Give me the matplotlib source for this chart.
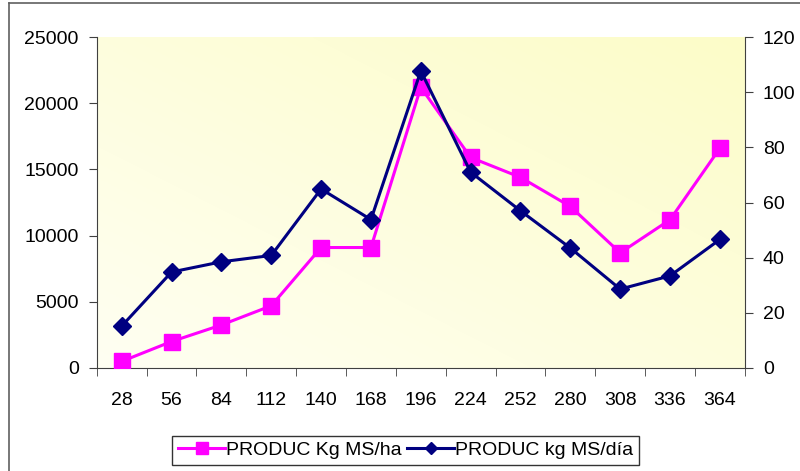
import numpy as np
import matplotlib
matplotlib.use("Agg")
import matplotlib.pyplot as plt
from matplotlib.colors import LinearSegmentedColormap
from matplotlib.lines import Line2D

plt.rcParams['font.family'] = ['Liberation Sans', 'DejaVu Sans']

dias = ["28", "56", "84", "112", "140", "168", "196", "224", "252", "280", "308", "336", "364"]
prod_ha = [500, 2000, 3250, 4700, 9100, 9100, 21200, 15900, 14400, 12200, 8700, 11200, 16600]
prod_dia = [15.2, 34.8, 38.5, 40.8, 64.9, 53.8, 107.7, 71.0, 57.0, 43.5, 28.6, 33.4, 46.6]

magenta = "#FF00FF"
navy = "#000080"

fig = plt.figure(figsize=(8, 4.71), dpi=100)
ax = fig.add_axes([0.121, 0.2187, 0.81, 0.7027])
ax2 = ax.twinx()

x = np.arange(len(dias))

# background gradient (pale yellow bottom-left -> white top-right)
gx, gy = np.meshgrid(np.linspace(0, 1, 200), np.linspace(0, 1, 200))
g = (gx + (1 - gy)) / 2
cmap = LinearSegmentedColormap.from_list("bg", ["#FFFFF2", "#FCFCC8"])
ax.imshow(g, cmap=cmap, extent=[-0.5, len(dias) - 0.5, 0, 25000],
          aspect='auto', zorder=0, origin='upper')

ax.plot(x, prod_ha, color=magenta, lw=2.2, marker='s', ms=11, zorder=3)
ax2.plot(x, prod_dia, color=navy, lw=2.2, marker='D', ms=9, zorder=3)

ax.set_xlim(-0.5, len(dias) - 0.5)
ax.set_ylim(0, 25000)
ax2.set_ylim(0, 120)
ax.set_yticks(range(0, 25001, 5000))
ax2.set_yticks(range(0, 121, 20))

ax.set_xticks(x)
ax.set_xticklabels(dias)
ax.set_xticks(np.arange(-0.5, len(dias), 1), minor=True)
ax.tick_params(axis='x', which='major', length=0, pad=17, labelsize=14)
ax.tick_params(axis='x', which='minor', length=6, direction='out', color='#404040')
ax.tick_params(axis='y', length=6, direction='out', labelsize=14, pad=7, color='#404040')
ax2.tick_params(axis='y', length=6, direction='out', labelsize=14, pad=7, color='#404040')

for a in (ax, ax2):
    a.spines['top'].set_visible(False)
    for s in ('left', 'right', 'bottom'):
        a.spines[s].set_color('#404040')
ax.spines['right'].set_visible(False)
ax2.spines['left'].set_visible(False)
ax2.spines['bottom'].set_visible(False)

# chart frame (top and left edges)
fig.add_artist(Line2D([0.011, 1.0], [0.993, 0.993], color='#606060', lw=1.2))
fig.add_artist(Line2D([0.011, 0.011], [0.0, 0.993], color='#606060', lw=1.2))

handles = [Line2D([], [], color=magenta, lw=2.2, marker='s', ms=8),
           Line2D([], [], color=navy, lw=2.2, marker='D', ms=6)]
leg = fig.legend(handles, ["PRODUC Kg MS/ha", "PRODUC kg MS/día"], loc='center',
                 bbox_to_anchor=(0.507, 0.044), ncol=2, fontsize=14, frameon=True,
                 fancybox=False, edgecolor='black', handlelength=2.4, handletextpad=0.05,
                 columnspacing=0.3, borderpad=0.3)
leg.get_frame().set_linewidth(1.0)

fig.savefig("out.png", dpi=100)
